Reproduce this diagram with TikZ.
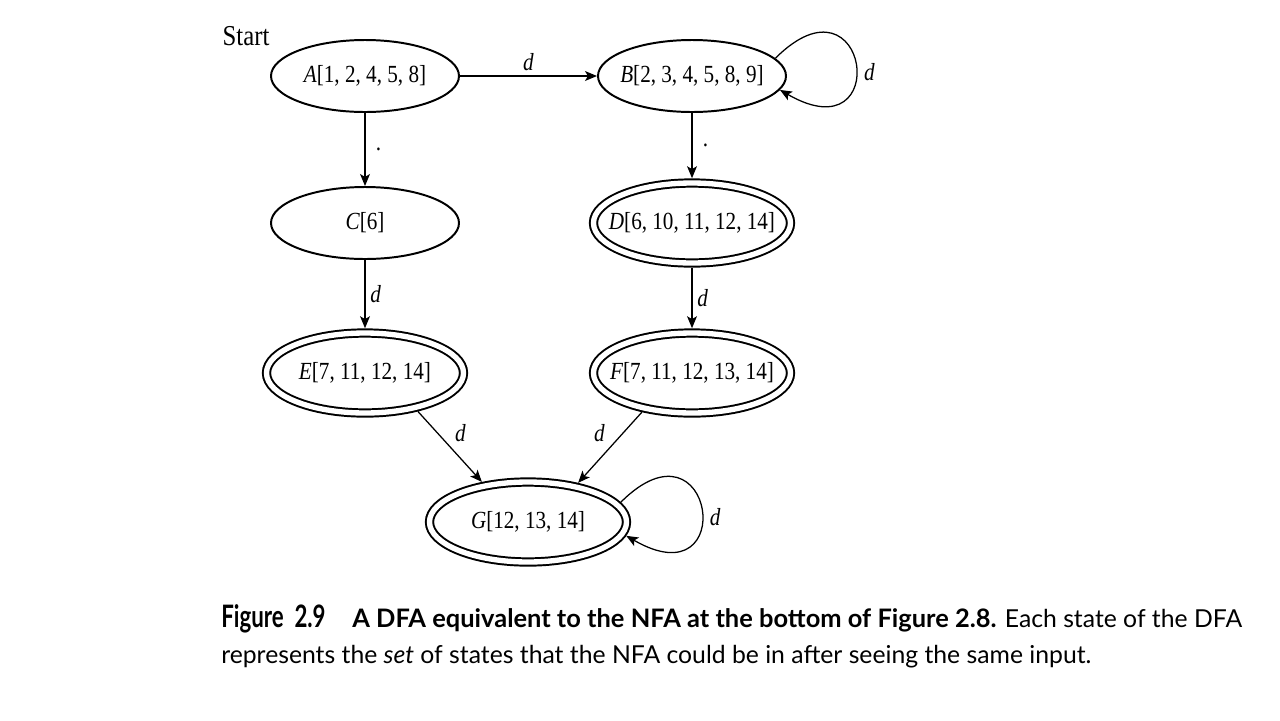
\documentclass[tikz,border=0pt]{standalone}
\usepackage{fontspec}
\setmainfont[FakeStretch=0.86]{Liberation Serif}
\newfontfamily\capfont{Lato}
\newfontfamily\figfont[FakeStretch=0.72]{Lato}
\usetikzlibrary{arrows.meta,shapes}

\tikzset{
  state/.style={draw, ellipse, line width=1.4pt, minimum width=4.7cm, minimum height=1.8cm, inner xsep=-12pt, inner ysep=0pt},
  accept/.style={state, double, double distance=3.8pt, minimum width=4.925cm, minimum height=2cm, outer sep=3.4pt},
  trans/.style={->, line width=0.9pt},
}

\begin{document}
\begin{tikzpicture}[>={Stealth[length=8.5pt,width=7pt,inset=2pt]}, font=\fontsize{17.5}{20}\selectfont]
				\useasboundingbox (0,0) rectangle (32,-18);
				\node (start) at (6.15,-0.9) [font=\fontsize{20.5}{22}\selectfont] {Start};
				\node (A) at (9.125,-1.9) [state] {\textit{A}[1, 2, 4, 5, 8]};
				\node (B) at (17.3,-1.9) [state] {\textit{B}[2, 3, 4, 5, 8, 9]};
				\node (C) at (9.125,-5.575) [state] {\textit{C}[6]};
				\node (D) at (17.3,-5.575) [accept] {\textit{D}[6, 10, 11, 12, 14]};
				\node (E) at (9.125,-9.325) [accept] {\textit{E}[7, 11, 12, 14]};
				\node (F) at (17.3,-9.325) [accept] {\textit{F}[7, 11, 12, 13, 14]};
				\node (G) at (13.2,-13.05) [accept] {\textit{G}[12, 13, 14]};
				
				\draw [trans] (A) -- node[above] {\textit{d}} (B);
				\draw [trans] (A) -- node[right=4pt] {.} (C);
				\draw [trans] (B) -- node[right=4pt] {.} (D);
				\draw [trans] (C) -- node[right] {\textit{d}} (E);
				\draw [trans] (D) -- node[right] {\textit{d}} (F);
				\draw [trans] (E.-36) -- node[above right] {\textit{d}} (G.139);
				\draw [trans] (F.-142) -- node[above left] {\textit{d}} (G.38);
				
				\draw [trans] (B.12) .. controls +(45:3.3) and +(-30:3.3) .. node[pos=0.55, right=2pt] {\textit{d}} (B.-9);
				\draw [trans] (G.12) .. controls +(45:3.3) and +(-30:3.3) .. node[pos=0.55, right=2pt] {\textit{d}} (G.-8);
				
				\node (caption) at (5.525,-15.1) [anchor=north west, inner sep=0pt, align=left, font=\capfont\fontsize{17.6}{25.6}\selectfont] {{\figfont\bfseries\fontsize{22}{25.6}\selectfont Figure\ \ 2.9}\hspace{19pt}{\bfseries\fontsize{18.1}{25.6}\selectfont A DFA equivalent to the NFA at the bottom of Figure 2.8.} Each state of the DFA\\represents the \textit{set} of states that the NFA could be in after seeing the same input.};
			\end{tikzpicture}
\end{document}
